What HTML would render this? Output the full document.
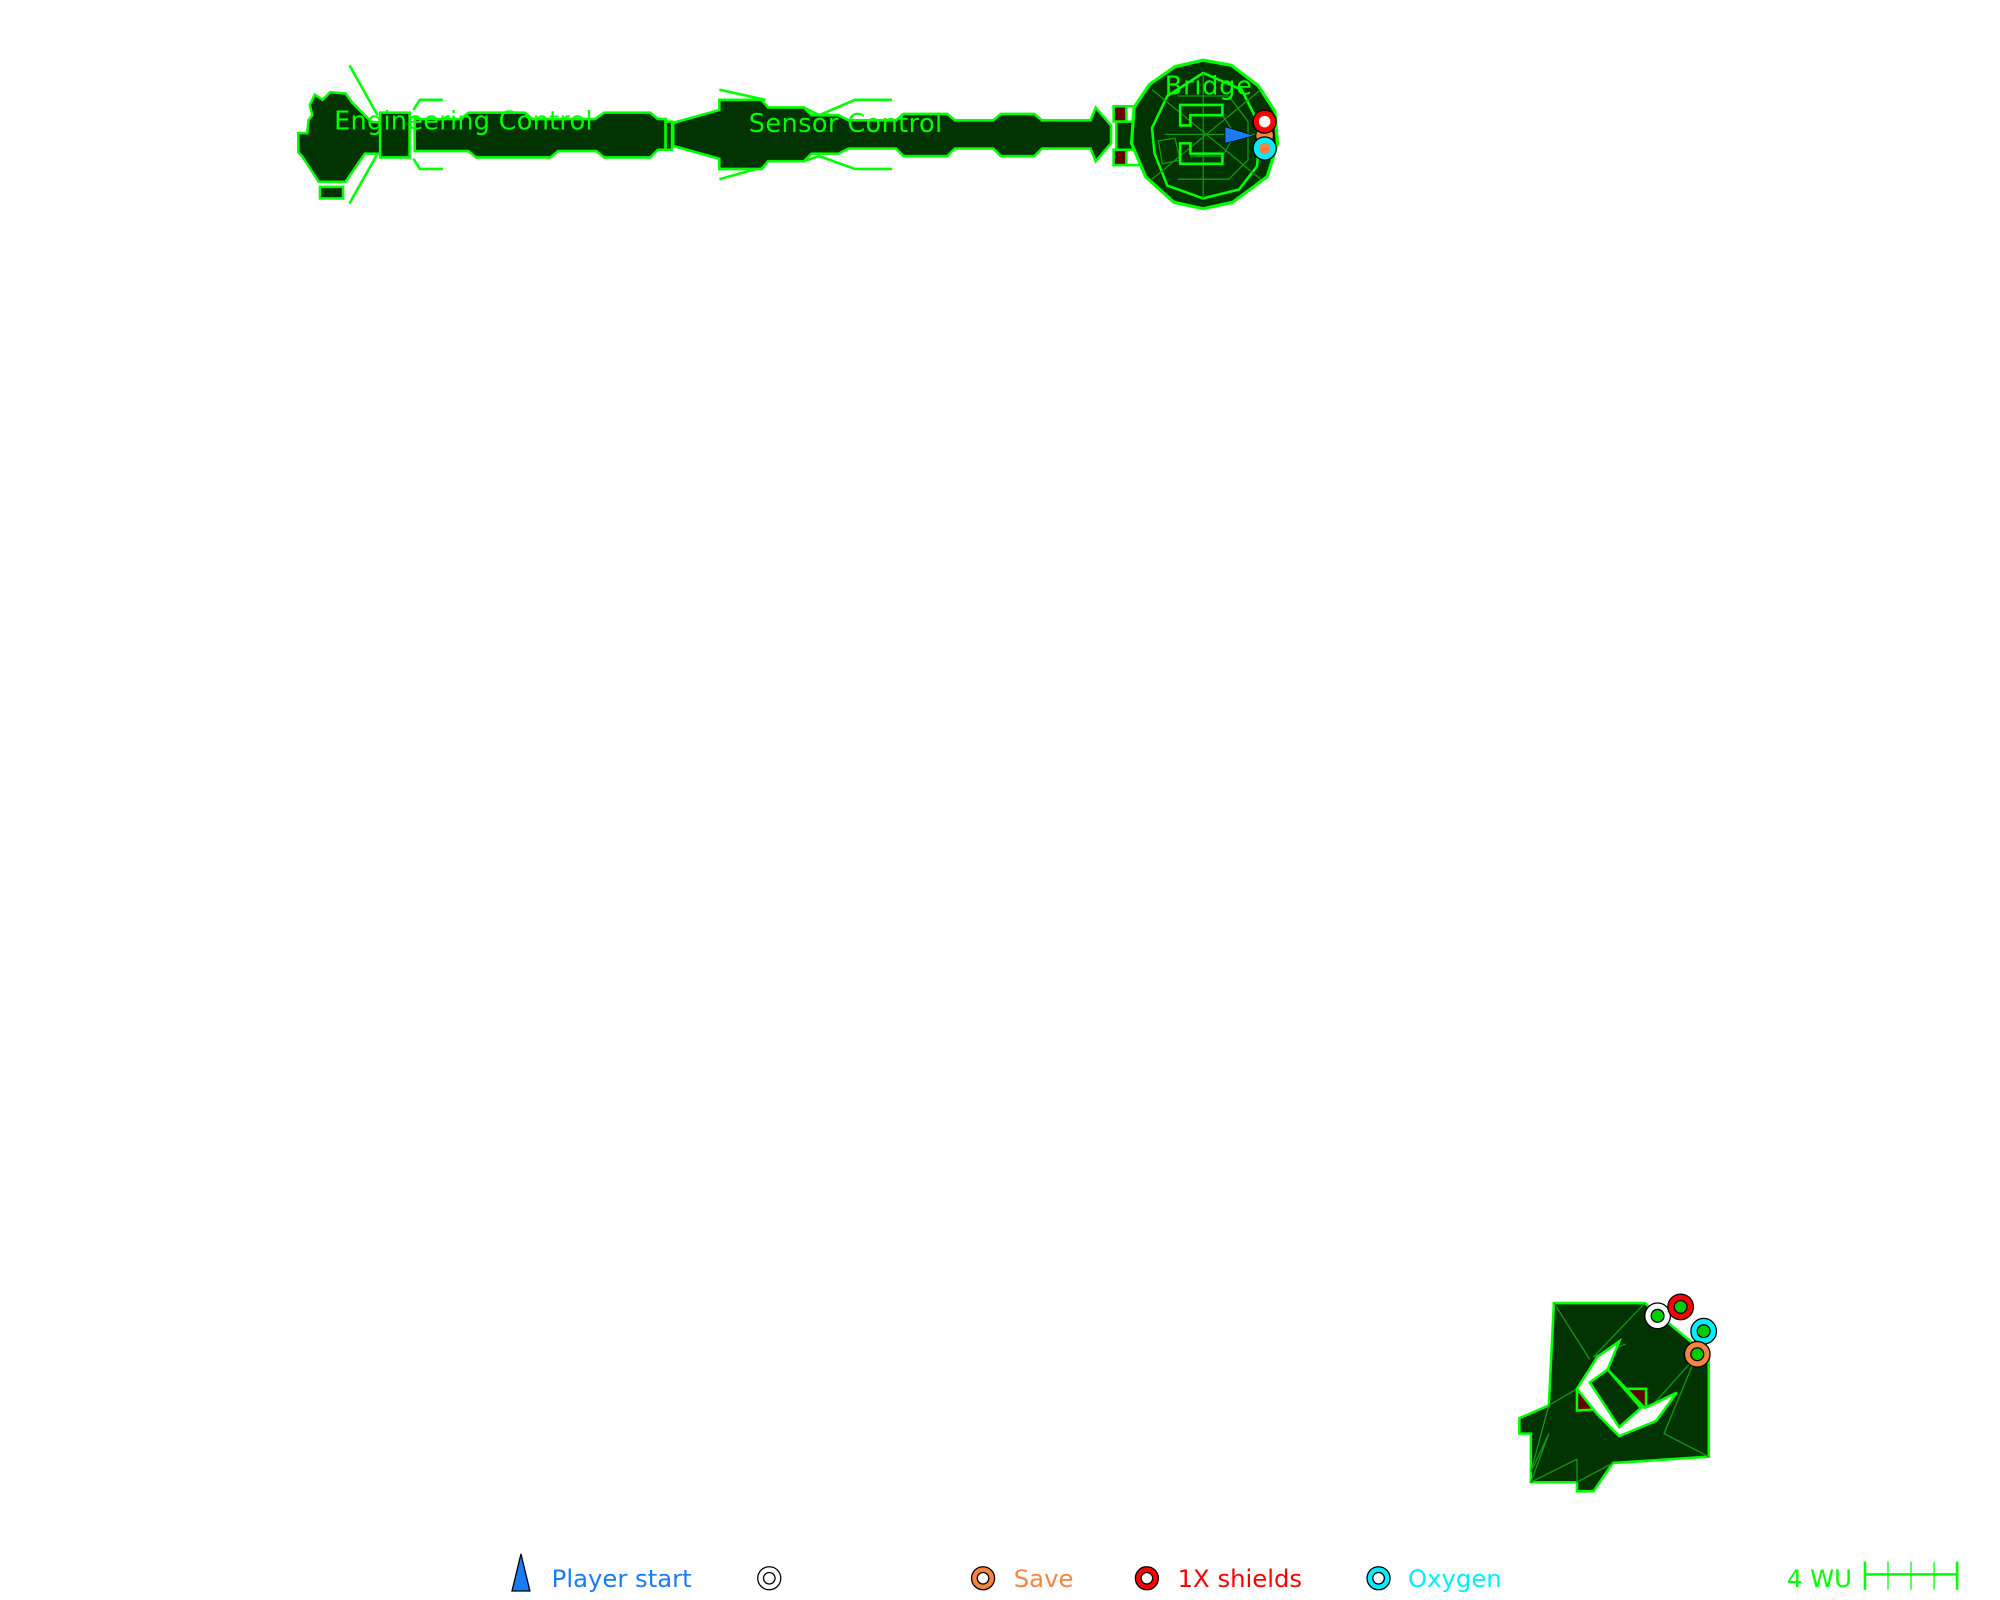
<!DOCTYPE html>
<html><head><style>html,body{margin:0;padding:0;background:#fff}svg{display:block}</style></head>
<body>
<svg width="2000" height="1600" viewBox="0 0 1562.5 1250" xmlns="http://www.w3.org/2000/svg" font-family="'DejaVu Sans','Liberation Sans',sans-serif">
<g stroke="#00ff00" stroke-width="2" fill="#003300" stroke-linejoin="miter">
<line x1="273" y1="51" x2="295" y2="90"/>
<line x1="273" y1="159" x2="295" y2="120"/>
<path d="M246,74 L252,78 L258,72 L270,73 L275,80 L290,95 L300,96 L300,120 L285,120 L270,142 L249,142 L236,122 L233,119 L233,104 L240,104 L241,94 L244,90 L242,82 Z"/>
<rect x="250" y="146" width="18" height="9"/>
<path d="M297,88 L320,88 L320,123 L297,123 Z"/>
<path d="M323,86 L328,78 L346,78 M323,124 L328,132 L346,132" fill="none"/>
<path d="M324,93 L360,93 L366,88 L410,88 L416,93 L465,93 L472,88 L508,88 L514,93 L520,93 L520,117 L514,117 L508,123 L472,123 L466,118 L436,118 L430,123 L372,123 L366,118 L324,118 Z"/>
<rect x="520" y="95" width="5" height="22"/>
<line x1="562" y1="70" x2="598" y2="78"/><line x1="562" y1="140" x2="598" y2="130"/>
<path d="M526,96 L562,86 L562,78 L595,78 L600,84 L628,84 L640,90 L668,78 L697,78 M526,114 L562,124 L562,132 L595,132 L600,126 L628,126 L640,122 L668,132 L697,132" fill="none"/>
<path d="M526,96 L562,86 L562,78 L595,78 L600,84 L628,84 L634,90 L655,90 L663,94 L700,94 L706,89 L740,89 L746,94 L776,94 L782,89 L808,89 L814,94 L852,94 L856,84 L868,98 L868,112 L856,126 L852,116 L814,116 L808,122 L782,122 L776,116 L746,116 L740,122 L706,122 L700,116 L663,116 L655,120 L634,120 L628,126 L600,126 L595,132 L562,132 L562,124 L526,114 Z"/>
<rect x="870" y="83" width="10" height="12" fill="#660000"/>
<rect x="870" y="117" width="10" height="12" fill="#660000"/>
<path d="M872,95 L900,95 L900,117 L872,117 Z"/>
<path d="M880,83 L905,83 M880,129 L905,129" fill="none"/>
<path d="M918,52 L940,47 L962,51 L983,67 L996,87 L998,112 L990,138 L963,158 L940,163 L917,158 L895,138 L884,112 L886,84 L898,66 Z" stroke-width="2.5"/>
<path d="M940,57 L970,70 L985,100 L982,130 L968,148 L940,155 L912,145 L902,120 L900,100 L912,75 Z" fill="none"/>
<g stroke="#119911" stroke-width="1" fill="none">
<path d="M940,57 L940,155 M910,105 L985,105 M920,75 L960,75 L975,95 L975,125 L960,140 L920,140 M930,90 L955,90 L965,105 L955,122 L930,122 M905,110 L918,108 L922,125 L908,128 Z M900,70 L985,140 M985,70 L900,140"/>
</g>
<path d="M922,82 L955,82 L955,90 L930,90 L930,98 L922,98 Z M922,128 L955,128 L955,120 L930,120 L930,112 L922,112 Z" fill="none"/>
</g>
<polygon points="957,99 980,106 957,112" fill="#1a7cf5" stroke="#000" stroke-width="0.5"/>
<circle cx="988" cy="106" r="7" fill="#f58442" stroke="#000" stroke-width="1"/>
<circle cx="988" cy="95" r="9" fill="#ff0000" stroke="#000" stroke-width="1"/><circle cx="988" cy="95" r="4.5" fill="#fff"/>
<circle cx="988" cy="116" r="9" fill="#00eeff" stroke="#000" stroke-width="1"/><circle cx="988" cy="116" r="4.5" fill="#f58442"/>
<g fill="#00ff00" font-size="20">
<text x="261" y="101" textLength="202">Engineering Control</text>
<text x="585" y="103" textLength="151">Sensor Control</text>
<text x="910" y="74" textLength="68">Bridge</text>
</g>
<g stroke="#00ff00" stroke-width="2" fill="#003300">
<path d="M1214,1018 L1285,1018 L1335,1060 L1335,1138 L1260,1143 L1245,1165 L1232,1165 L1232,1158 L1196,1158 L1196,1120 L1187,1120 L1187,1108 L1210,1098 Z"/>
<g stroke="#119911" stroke-width="1" fill="none">
<path d="M1214,1018 L1242,1062 M1285,1018 L1245,1060 L1270,1050 M1210,1098 L1196,1150 L1210,1120 L1196,1158 L1232,1140 L1232,1158 L1260,1143 M1335,1138 L1300,1120 L1325,1060 L1280,1110 M1210,1098 L1232,1085"/>
</g>
<path d="M1232,1085 L1255,1085 L1268,1100 L1232,1102 Z M1268,1085 L1286,1085 L1286,1104 L1270,1100 Z" fill="#660000"/>
<path d="M1232,1085 L1248,1060 L1265,1048 L1256,1070 L1285,1100 L1310,1088 L1294,1110 L1265,1122 L1248,1105 Z" fill="#fff"/>
<path d="M1242,1080 L1256,1070 L1282,1100 L1265,1115 Z" fill="#003300"/>
</g>
<g stroke="#000" stroke-width="1">
<circle cx="1295" cy="1028" r="10" fill="#fff"/><circle cx="1295" cy="1028" r="5" fill="#00cc00"/>
<circle cx="1313" cy="1021" r="10" fill="#ff0000"/><circle cx="1313" cy="1021" r="5" fill="#00cc00"/>
<circle cx="1331" cy="1040" r="10" fill="#00eeff"/><circle cx="1331" cy="1040" r="5" fill="#00cc00"/>
<circle cx="1326" cy="1058" r="10" fill="#f58442"/><circle cx="1326" cy="1058" r="5" fill="#00cc00"/>
</g>
<polygon points="407,1214 400,1243 414,1243" fill="#1a7cf5" stroke="#000" stroke-width="1"/>
<g stroke="#000" stroke-width="1">
<circle cx="601" cy="1233" r="9" fill="#fff"/><circle cx="601" cy="1233" r="4.5" fill="#fff"/>
<circle cx="768" cy="1233" r="9" fill="#f58442"/><circle cx="768" cy="1233" r="4.5" fill="#fff"/>
<circle cx="896" cy="1233" r="9" fill="#ff0000"/><circle cx="896" cy="1233" r="4.5" fill="#fff"/>
<circle cx="1077" cy="1233" r="9" fill="#00eeff"/><circle cx="1077" cy="1233" r="4.5" fill="#fff"/>
</g>
<g font-size="19">
<text x="431" y="1240" fill="#1a7cf5">Player start</text>
<text x="792" y="1240" fill="#f58442">Save</text>
<text x="920" y="1240" fill="#ff0000">1X shields</text>
<text x="1100" y="1240" fill="#00eeff">Oxygen</text>
<text x="1396" y="1240" fill="#00ff00">4 WU</text>
</g>
<g stroke="#00ff00" stroke-width="2">
<line x1="1457" y1="1230" x2="1530" y2="1230"/>
<line x1="1457" y1="1220" x2="1457" y2="1242"/>
<line x1="1475" y1="1220" x2="1475" y2="1242" stroke-width="1"/>
<line x1="1493" y1="1220" x2="1493" y2="1242" stroke-width="1"/>
<line x1="1511" y1="1220" x2="1511" y2="1242" stroke-width="1"/>
<line x1="1529" y1="1220" x2="1529" y2="1242"/>
</g>
</svg>
</body></html>
